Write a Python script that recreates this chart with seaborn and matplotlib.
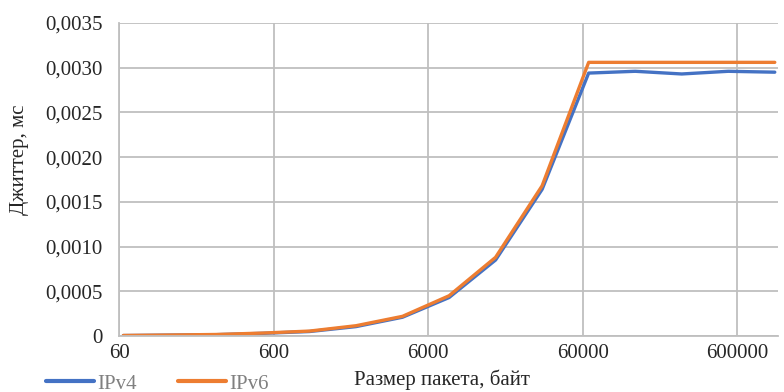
import matplotlib
matplotlib.use("Agg")
import matplotlib.pyplot as plt
import matplotlib.ticker as mticker
from matplotlib.lines import Line2D
import seaborn as sns
import pandas as pd

packet_sizes = [64, 128, 256, 512, 1024, 2048, 4096, 8192, 16384, 32768,
                65536, 131072, 262144, 524288, 1048576]
ipv4 = [0.000005, 0.00001, 0.000015, 0.00003, 0.00005, 0.000105, 0.00021,
        0.00043, 0.00085, 0.00164, 0.00294, 0.00296, 0.00293, 0.00296, 0.00295]
ipv6 = [0.000006, 0.000011, 0.000017, 0.000033, 0.000055, 0.000115, 0.00022,
        0.00045, 0.00088, 0.00168, 0.00306, 0.00306, 0.00306, 0.00306, 0.00306]
series_names = ["IPv4", "IPv6"]
x_ticks = [60, 600, 6000, 60000, 600000]
y_ticks = [0, 0.0005, 0.0010, 0.0015, 0.0020, 0.0025, 0.0030, 0.0035]

df = pd.DataFrame({
    "size": packet_sizes * 2,
    "jitter": ipv4 + ipv6,
    "proto": [series_names[0]] * len(ipv4) + [series_names[1]] * len(ipv6),
})

sns.set_theme(style="white")
plt.rcParams["font.family"] = ["Liberation Serif", "DejaVu Serif"]

W, H = 784, 392
fig = plt.figure(figsize=(7.84, 3.92), dpi=100)
ax = fig.add_axes([119 / W, 1 - 336 / H, (778 - 119) / W, (336 - 23) / H])

palette = {"IPv4": "#4472C4", "IPv6": "#ED7D31"}
sns.lineplot(data=df, x="size", y="jitter", hue="proto", palette=palette,
             linewidth=2.4, ax=ax, legend=False)

ax.set_xscale("log")
ax.set_xlim(60, 1.1e6)
ax.set_ylim(0, 0.0035)
ax.set_xticks(x_ticks)
ax.xaxis.set_major_formatter(mticker.FixedFormatter([str(t) for t in x_ticks]))
ax.xaxis.set_minor_locator(mticker.NullLocator())
ax.set_yticks(y_ticks)
ax.set_yticklabels(["0" if v == 0 else f"{v:.4f}".replace(".", ",") for v in y_ticks])

grid_c = "#BFBFBF"
ax.grid(True, color=grid_c, linewidth=1.3)
ax.set_axisbelow(True)
for s in ["top", "right"]:
    ax.spines[s].set_visible(False)
for s in ["left", "bottom"]:
    ax.spines[s].set_color(grid_c)
    ax.spines[s].set_linewidth(1.3)

ax.tick_params(axis="y", length=3, color=grid_c, width=1.3, labelsize=15,
               labelcolor="#262626", pad=9)
ax.tick_params(axis="x", length=0, labelsize=15, labelcolor="#262626", pad=6)

ax.set_ylabel("")
ax.set_xlabel("")
fig.text(20 / W, 1 - 160 / H, "Джиттер, мс", fontsize=15, color="#262626",
         rotation=90, ha="center", va="center")
fig.text(442 / W, 1 - 380 / H, "Размер пакета, байт", fontsize=15, color="#262626",
         ha="center", va="center")

handles = [Line2D([0], [0], color=palette[n], linewidth=3) for n in series_names]
leg = fig.legend(handles, series_names, loc="center left",
                 bbox_to_anchor=(46 / W, 1 - 384 / H), ncol=2, frameon=False,
                 fontsize=15, handlelength=2.3, columnspacing=2.0,
                 handletextpad=0.15, borderpad=0, borderaxespad=0)
for t in leg.get_texts():
    t.set_color("#808080")

fig.savefig("out.png", dpi=100)
